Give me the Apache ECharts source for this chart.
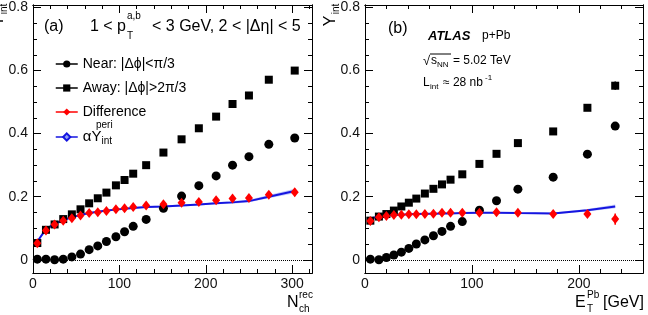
<!DOCTYPE html>
<html>
<head>
<meta charset="utf-8">
<script src="https://cdn.jsdelivr.net/npm/echarts@6/dist/echarts.min.js"></script>
<style>
    html, body {margin: 0; padding: 0; background: #fff;}
    #chart {width: 648px; height: 315px;}
</style>
</head>
<body>
<div id="chart"></div>
<script>
// panel (a): yields vs N_ch^rec
const nchX = [5, 15, 25, 35, 45, 55, 65, 75, 85, 96, 106, 116, 131, 151, 172, 192, 212, 231, 250, 273, 303];
const nearA = [0.002, 0.002, 0.000, 0.002, 0.009, 0.018, 0.032, 0.044, 0.058, 0.073, 0.089, 0.106, 0.128, 0.163, 0.202, 0.235, 0.266, 0.300, 0.327, 0.366, 0.386];
const nearAErr = [0, 0, 0, 0, 0, 0, 0, 0, 0, 0, 0, 0, 0, 0, 0, 0, 0, 0, 0.004, 0.005, 0.008];
const awayA = [0.053, 0.095, 0.112, 0.129, 0.144, 0.160, 0.179, 0.195, 0.213, 0.236, 0.253, 0.273, 0.300, 0.340, 0.382, 0.417, 0.454, 0.494, 0.521, 0.571, 0.600];
const awayAErr = [0, 0, 0, 0, 0, 0, 0, 0, 0, 0, 0, 0, 0, 0, 0, 0, 0, 0, 0.004, 0.005, 0.009];
const diffA = [0.052, 0.093, 0.112, 0.124, 0.132, 0.140, 0.148, 0.151, 0.155, 0.160, 0.163, 0.167, 0.172, 0.176, 0.181, 0.183, 0.189, 0.194, 0.196, 0.206, 0.214];
const diffAErr = [0.007, 0.007, 0.006, 0.006, 0.006, 0.006, 0.006, 0.006, 0.006, 0.006, 0.006, 0.006, 0.006, 0.007, 0.007, 0.007, 0.007, 0.007, 0.007, 0.008, 0.012];
const periA = [0.058, 0.097, 0.114, 0.126, 0.135, 0.142, 0.148, 0.152, 0.156, 0.159, 0.162, 0.164, 0.167, 0.169, 0.172, 0.175, 0.179, 0.182, 0.186, 0.200, 0.218];
const periABand = [0.004, 0.004, 0.004, 0.003, 0.003, 0.003, 0.003, 0.003, 0.003, 0.003, 0.003, 0.003, 0.003, 0.003, 0.003, 0.003, 0.003, 0.004, 0.004, 0.005, 0.007];

// panel (b): yields vs E_T^Pb
const etX = [5, 13, 20, 27, 34, 41, 48, 56, 64, 72, 80, 91, 107, 123, 143, 176, 208, 234];
const nearB = [0.002, 0.000, 0.007, 0.015, 0.024, 0.036, 0.050, 0.063, 0.076, 0.090, 0.106, 0.121, 0.157, 0.187, 0.224, 0.262, 0.335, 0.424];
const nearBErr = [0, 0, 0, 0, 0, 0, 0, 0, 0, 0, 0, 0, 0, 0, 0, 0.004, 0.006, 0.012];
const awayB = [0.124, 0.137, 0.145, 0.156, 0.169, 0.181, 0.194, 0.210, 0.225, 0.239, 0.254, 0.271, 0.304, 0.336, 0.370, 0.407, 0.482, 0.552];
const awayBErr = [0, 0, 0, 0, 0, 0, 0, 0, 0, 0, 0, 0, 0, 0, 0, 0.004, 0.007, 0.013];
const diffB = [0.123, 0.135, 0.139, 0.142, 0.143, 0.144, 0.144, 0.145, 0.146, 0.149, 0.149, 0.149, 0.149, 0.151, 0.149, 0.145, 0.145, 0.129];
const diffBErr = [0.008, 0.007, 0.007, 0.006, 0.006, 0.006, 0.006, 0.006, 0.006, 0.006, 0.006, 0.006, 0.006, 0.006, 0.006, 0.007, 0.008, 0.018];
const periB = [0.131, 0.137, 0.140, 0.142, 0.143, 0.144, 0.145, 0.146, 0.146, 0.147, 0.147, 0.148, 0.149, 0.149, 0.148, 0.147, 0.157, 0.169];
const periBBand = [0.003, 0.003, 0.003, 0.002, 0.002, 0.002, 0.002, 0.002, 0.002, 0.002, 0.002, 0.002, 0.002, 0.002, 0.002, 0.003, 0.004, 0.006];

const yTicks = ['0', '0.2', '0.4', '0.6', '0.8'];
const FONT = 'Liberation Sans, Arial, sans-serif';
const BLUE = '#1515e0';
const RED = '#ff0000';

const pairs = (xs, ys) => xs.map((x, i) => [x, ys[i]]);
const triples = (xs, ys, es) => xs.map((x, i) => [x, ys[i], es[i]]);

//坐标轴：每个面板四条x轴（下主、下次、上主、上次），四条y轴
function makeX(g, max, split, minorSplit) {
    const base = {
        gridIndex: g, type: 'value', min: 0, max: max,
        axisLine: {onZero: false, lineStyle: {color: '#000', width: 1}},
        splitLine: {show: false}
    };
    return [
        Object.assign({}, base, {
            position: 'bottom', splitNumber: split,
            axisTick: {inside: true, length: 8, lineStyle: {color: '#000'}},
            axisLabel: {
                margin: 4, fontSize: 14, color: '#111', fontFamily: FONT,
                formatter: v => (v % 100 === 0 ? String(v) : '')
            }
        }),
        Object.assign({}, base, {
            position: 'bottom', splitNumber: minorSplit,
            axisTick: {inside: true, length: 4, lineStyle: {color: '#000'}},
            axisLabel: {show: false}
        }),
        Object.assign({}, base, {
            position: 'top', splitNumber: split,
            axisTick: {inside: true, length: 8, lineStyle: {color: '#000'}},
            axisLabel: {show: false}
        }),
        Object.assign({}, base, {
            position: 'top', splitNumber: minorSplit,
            axisTick: {inside: true, length: 4, lineStyle: {color: '#000'}},
            axisLabel: {show: false}
        })
    ];
}

function makeY(g) {
    const base = {
        gridIndex: g, type: 'value', min: -0.042, max: 0.808,
        axisLine: {onZero: false, lineStyle: {color: '#000', width: 1}},
        splitLine: {show: false}
    };
    return [
        Object.assign({}, base, {
            position: 'left', splitNumber: 4,
            axisTick: {inside: true, length: 8, lineStyle: {color: '#000'}},
            axisLabel: {
                margin: 5, fontSize: 14, color: '#111', fontFamily: FONT,
                formatter: v => {
                    const k = Math.round(v * 5);
                    return Math.abs(v * 5 - k) < 1e-6 && k >= 0 ? yTicks[k] : '';
                }
            }
        }),
        Object.assign({}, base, {
            position: 'left', splitNumber: 17,
            axisTick: {inside: true, length: 4, lineStyle: {color: '#000'}},
            axisLabel: {show: false}
        }),
        Object.assign({}, base, {
            position: 'right', splitNumber: 4,
            axisTick: {inside: true, length: 8, lineStyle: {color: '#000'}},
            axisLabel: {show: false}
        }),
        Object.assign({}, base, {
            position: 'right', splitNumber: 17,
            axisTick: {inside: true, length: 4, lineStyle: {color: '#000'}},
            axisLabel: {show: false}
        })
    ];
}

//误差棒
function errSeries(g, xs, ys, es, color, width) {
    return {
        type: 'custom', xAxisIndex: g * 4, yAxisIndex: g * 4, silent: true, z: 3,
        data: triples(xs, ys, es),
        encode: {x: 0, y: 1},
        renderItem: function (params, api) {
            const x = api.value(0), y = api.value(1), e = api.value(2);
            if (!e) return null;
            const p1 = api.coord([x, y - e]);
            const p2 = api.coord([x, y + e]);
            return {
                type: 'line',
                shape: {x1: p1[0], y1: p1[1], x2: p2[0], y2: p2[1]},
                style: {stroke: color, lineWidth: width}
            };
        }
    };
}

//蓝色误差带
function bandSeries(g, xs, ys, bw) {
    return {
        type: 'custom', xAxisIndex: g * 4, yAxisIndex: g * 4, silent: true, z: 1,
        data: [[xs[0], ys[0]]],
        encode: {x: 0, y: 1},
        renderItem: function (params, api) {
            const upper = xs.map((x, i) => api.coord([x, ys[i] + bw[i]]));
            const lower = xs.map((x, i) => api.coord([x, ys[i] - bw[i]])).reverse();
            return {
                type: 'polygon',
                shape: {points: upper.concat(lower)},
                style: {fill: 'rgba(120,140,245,0.45)'}
            };
        }
    };
}

function panelSeries(g, sfx, xs, near, nearErr, away, awayErr, diff, diffErr, peri, band) {
    const ax = {xAxisIndex: g * 4, yAxisIndex: g * 4};
    return [
        bandSeries(g, xs, peri, band),
        Object.assign({
            name: 'alpha' + sfx, type: 'line', data: pairs(xs, peri), z: 2,
            symbol: 'diamond', symbolSize: 6, showSymbol: false,
            itemStyle: {color: '#8fa0f5', borderColor: BLUE, borderWidth: 1},
            lineStyle: {color: BLUE, width: 2}
        }, ax),
        Object.assign({
            name: 'Near' + sfx, type: 'line', data: pairs(xs, near), z: 4,
            symbol: 'circle', symbolSize: 9,
            itemStyle: {color: '#000'},
            lineStyle: {color: '#000', opacity: 0},
            markLine: {
                silent: true, symbol: ['none', 'none'], label: {show: false},
                lineStyle: {color: '#000', type: 'dotted', width: 1},
                data: [{yAxis: 0}]
            }
        }, ax),
        errSeries(g, xs, near, nearErr, '#000', 1.5),
        Object.assign({
            name: 'Away' + sfx, type: 'line', data: pairs(xs, away), z: 4,
            symbol: 'rect', symbolSize: 8,
            itemStyle: {color: '#000'},
            lineStyle: {color: '#000', opacity: 0}
        }, ax),
        errSeries(g, xs, away, awayErr, '#000', 1.5),
        errSeries(g, xs, diff, diffErr, RED, 1.5),
        Object.assign({
            name: 'Difference' + sfx, type: 'line', data: pairs(xs, diff), z: 5,
            symbol: 'diamond', symbolSize: [8, 10],
            itemStyle: {color: RED},
            lineStyle: {color: RED, opacity: 0}
        }, ax)
    ];
}

function txt(x, y, text, size, opts) {
    return Object.assign({
        type: 'text', x: x, y: y, silent: true,
        style: Object.assign({
            text: text, fill: '#000', align: 'left', verticalAlign: 'middle',
            font: size + 'px ' + FONT
        }, (opts && opts.style) || {})
    }, (opts && opts.el) || {});
}

const rot = {el: {rotation: Math.PI / 2}, style: {align: 'center'}};

const option = {
    animation: false,
    backgroundColor: '#fff',
    grid: [
        {left: 33, right: 336, top: 5, bottom: 42},
        {left: 365, right: 5, top: 5, bottom: 42}
    ],
    xAxis: makeX(0, 323, 3, 16).concat(makeX(1, 260, 3, 13)),
    yAxis: makeY(0).concat(makeY(1)),
    legend: {
        data: ['Near', 'Away', 'Difference', 'alpha'],
        orient: 'vertical', left: 50, top: 51,
        itemWidth: 22, itemHeight: 9, itemGap: 8,
        selectedMode: false,
        lineStyle: {width: 1.5, opacity: 1},
        textStyle: {
            fontSize: 14, fontFamily: FONT, color: '#000', lineHeight: 16,
            rich: {
                g: {fontSize: 15, fontFamily: FONT, color: '#000', lineHeight: 18},
                s: {fontSize: 10, fontFamily: FONT, color: '#000', lineHeight: 8, verticalAlign: 'bottom'}
            }
        },
        formatter: function (name) {
            return {
                'Near': 'Near: |Δϕ|<π/3',
                'Away': 'Away: |Δϕ|>2π/3',
                'Difference': 'Difference',
                'alpha': '{g|αY}{s|int}'
            }[name];
        }
    },
    graphic: [
        // panel (a) labels
        txt(44, 27, '(a)', 16),
        txt(90, 27, '1 <', 16),
        txt(117, 27, 'p', 16),
        txt(127, 16, 'a,b', 10),
        txt(127, 36, 'T', 10),
        txt(152, 27, '< 3 GeV, 2 < |Δη| < 5', 16),
        txt(96, 125, 'peri', 10),
        txt(-1, 21, 'Y', 16, rot),
        txt(4, 9, 'int', 10, rot),
        txt(287, 303, 'N', 16),
        txt(299, 295, 'rec', 10),
        txt(299, 309, 'ch', 10),
        // panel (b) labels
        txt(388, 29, '(b)', 16),
        txt(428, 36, 'ATLAS', 13, {style: {font: 'italic bold 13px ' + FONT}}),
        txt(482, 36, 'p+Pb', 12),
        txt(423, 61, '√', 13),
        {type: 'line', silent: true, shape: {x1: 430, y1: 54, x2: 451, y2: 54}, style: {stroke: '#000', lineWidth: 1}},
        txt(431, 61, 's', 12),
        txt(437, 65, 'NN', 8),
        txt(453, 61, '= 5.02 TeV', 12),
        txt(423, 83, 'L', 12),
        txt(430, 87, 'int', 8),
        txt(443, 83, '≈ 28 nb', 12),
        txt(485, 78, '-1', 8),
        txt(331, 21, 'Y', 16, rot),
        txt(336, 9, 'int', 10, rot),
        txt(575, 303, 'E', 16),
        txt(587, 295, 'Pb', 10),
        txt(587, 309, 'T', 10),
        txt(603, 303, '[GeV]', 16)
    ],
    series: panelSeries(0, '', nchX, nearA, nearAErr, awayA, awayAErr, diffA, diffAErr, periA, periABand)
        .concat(panelSeries(1, ' b', etX, nearB, nearBErr, awayB, awayBErr, diffB, diffBErr, periB, periBBand))
};

const myChart = echarts.init(document.getElementById('chart'), null, {renderer: 'canvas'});
myChart.setOption(option);
</script>
</body>
</html>
